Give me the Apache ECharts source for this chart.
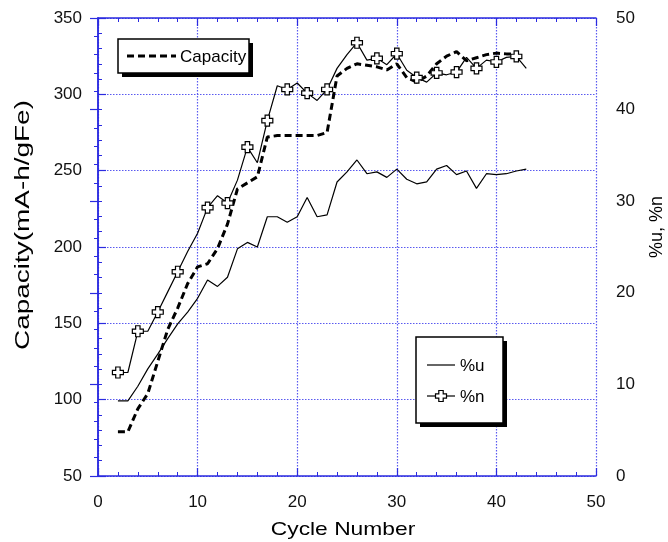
<!DOCTYPE html>
<html>
<head>
<meta charset="utf-8">
<script src="https://cdn.jsdelivr.net/npm/echarts@6/dist/echarts.min.js"></script>
<style>html,body{margin:0;padding:0;background:#fff}#c{width:668px;height:542px}</style>
</head>
<body>
<div id="c"></div>
<script>
// ---- data ----
const cycles = [2,3,4,5,6,7,8,9,10,11,12,13,14,15,16,17,18,19,20,21,22,23,24,25,26,27,28,29,30,31,32,33,34,35,36,37,38,39,40,41,42,43];
const capacity = [79,79,94,104,125,146,160,176,187,189,199,215,238,242,246,272,273,273,273,273,273,275,312,317,320,319,318,316,320,311,308,312,320,325,328,322,324,326,327,326.5,326.5,null];
const pctU = [8.2,8.2,9.8,11.7,13.3,15.0,16.6,17.9,19.4,21.4,20.7,21.7,24.8,25.5,25.0,28.3,28.3,27.7,28.3,30.4,28.3,28.5,32.1,33.2,34.5,33.0,33.2,32.6,33.5,32.4,31.9,32.1,33.5,33.9,32.9,33.3,31.4,33.0,32.9,33.0,33.3,33.5];
const pctN = [11.3,11.3,15.8,15.8,17.9,20.1,22.3,24.5,26.5,29.3,30.6,29.8,32.3,35.9,34.2,38.8,42.6,42.2,42.9,41.8,41.0,42.2,44.5,46.0,47.3,45.4,45.6,44.9,46.1,44.3,43.5,43.0,44.0,43.8,44.1,45.7,44.5,45.4,45.2,45.7,45.8,44.5];
const nMarkerCycles = [2,4,6,8,11,13,15,17,19,21,23,26,28,30,32,34,36,38,40,42];
const xTicks = {min:0, max:50, interval:10};
const yLeftTicks = {min:50, max:350, interval:50};
const yRightTicks = {min:0, max:50, interval:10};

const AX = '#2b2be0', GRID = '#5a5af0', FONT = 'Liberation Sans, Arial, sans-serif';
const cross = 'path://M3,0L7,0L7,3L10,3L10,7L7,7L7,10L3,10L3,7L0,7L0,3L3,3Z';

const capData = cycles.map((c,i)=>capacity[i]==null?null:[c,capacity[i]]).filter(d=>d);
const uData = cycles.map((c,i)=>[c,pctU[i]]);
const nData = cycles.map((c,i)=>({value:[c,pctN[i]], symbol: nMarkerCycles.includes(c)?cross:'none'}));

function axisCommon(extra){
  return Object.assign({
    type:'value',
    axisLine:{show:true,lineStyle:{color:AX,width:1.5}},
    axisTick:{show:true,inside:true,length:8,lineStyle:{color:AX,width:1.2}},
    minorTick:{show:true,splitNumber:5,length:4,lineStyle:{color:AX,width:1}},
    axisLabel:{color:'#111',fontSize:17,fontFamily:FONT},
    splitLine:{show:false}
  }, extra);
}

// legend cross marker as polygon points
function crossPts(cx, cy, s){
  const a = s*0.2, b = s*0.5;
  return [[cx-a,cy-b],[cx+a,cy-b],[cx+a,cy-a],[cx+b,cy-a],[cx+b,cy+a],[cx+a,cy+a],[cx+a,cy+b],[cx-a,cy+b],[cx-a,cy+a],[cx-b,cy+a],[cx-b,cy-a],[cx-a,cy-a]];
}

const chart = echarts.init(document.getElementById('c'), null, {renderer:'canvas'});
chart.setOption({
  animation:false,
  backgroundColor:'#fff',
  grid:{left:98,right:72,top:18,bottom:66},
  xAxis:[
    axisCommon(Object.assign({position:'bottom', axisLabel:{color:'#111',fontSize:17,fontFamily:FONT,margin:18},
      splitLine:{show:true,lineStyle:{color:GRID,width:1.2,type:[1.5,1.5]}}}, xTicks)),
    axisCommon(Object.assign({position:'top', axisLabel:{show:false}}, xTicks))
  ],
  yAxis:[
    axisCommon(Object.assign({position:'left', axisLabel:{color:'#111',fontSize:17,fontFamily:FONT,margin:16},
      splitLine:{show:true,lineStyle:{color:GRID,width:1.2,type:[1.5,1.5]}}}, yLeftTicks)),
    axisCommon(Object.assign({position:'right', axisLabel:{color:'#111',fontSize:17,fontFamily:FONT,margin:20}}, yRightTicks))
  ],
  series:[
    {name:'Capacity', type:'line', xAxisIndex:0, yAxisIndex:0, data:capData, symbol:'none',
     lineStyle:{color:'#000',width:3,type:[7,4]}, z:3},
    {name:'%u', type:'line', xAxisIndex:0, yAxisIndex:1, data:uData, symbol:'none',
     lineStyle:{color:'#000',width:1.2}, z:3},
    {name:'%n', type:'line', xAxisIndex:0, yAxisIndex:1, data:nData, showSymbol:true, showAllSymbol:true,
     symbolSize:11, itemStyle:{color:'#fff',borderColor:'#000',borderWidth:1.2},
     lineStyle:{color:'#000',width:1.2}, z:4}
  ],
  graphic:[
    // axis titles
    {type:'text', x:23, y:225, rotation:Math.PI/2, scaleX:1.33,
     style:{text:'Capacity(mA-h/gFe)', font:'21px '+FONT, fill:'#000', textAlign:'center', textVerticalAlign:'middle'}},
    {type:'text', x:343, y:530, scaleX:1.2,
     style:{text:'Cycle Number', font:'19px '+FONT, fill:'#000', textAlign:'center', textVerticalAlign:'middle'}},
    {type:'text', x:657, y:227, rotation:Math.PI/2,
     style:{text:'%u, %n', font:'18px '+FONT, fill:'#000', textAlign:'center', textVerticalAlign:'middle'}},
    // legend 1
    {type:'rect', shape:{x:122,y:43,width:131,height:34}, style:{fill:'#000'}, z:10},
    {type:'rect', shape:{x:118,y:39,width:131,height:34}, style:{fill:'#fff',stroke:'#000',lineWidth:1.5}, z:11},
    {type:'line', shape:{x1:127,y1:56,x2:176,y2:56}, style:{stroke:'#000',lineWidth:3,lineDash:[7,4]}, z:12},
    {type:'text', x:180, y:57, z:12, style:{text:'Capacity', font:'17px '+FONT, fill:'#000', textAlign:'left', textVerticalAlign:'middle'}},
    // legend 2
    {type:'rect', shape:{x:420,y:341,width:87,height:86}, style:{fill:'#000'}, z:10},
    {type:'rect', shape:{x:416,y:337,width:87,height:86}, style:{fill:'#fff',stroke:'#000',lineWidth:1.5}, z:11},
    {type:'line', shape:{x1:427,y1:365,x2:455,y2:365}, style:{stroke:'#000',lineWidth:1.2}, z:12},
    {type:'text', x:460, y:366, z:12, style:{text:'%u', font:'17px '+FONT, fill:'#000', textAlign:'left', textVerticalAlign:'middle'}},
    {type:'line', shape:{x1:427,y1:396,x2:455,y2:396}, style:{stroke:'#000',lineWidth:1.2}, z:12},
    {type:'polygon', shape:{points:crossPts(441,396,11)}, style:{fill:'#fff',stroke:'#000',lineWidth:1.2}, z:13},
    {type:'text', x:460, y:397, z:12, style:{text:'%n', font:'17px '+FONT, fill:'#000', textAlign:'left', textVerticalAlign:'middle'}}
  ]
});
</script>
</body>
</html>
